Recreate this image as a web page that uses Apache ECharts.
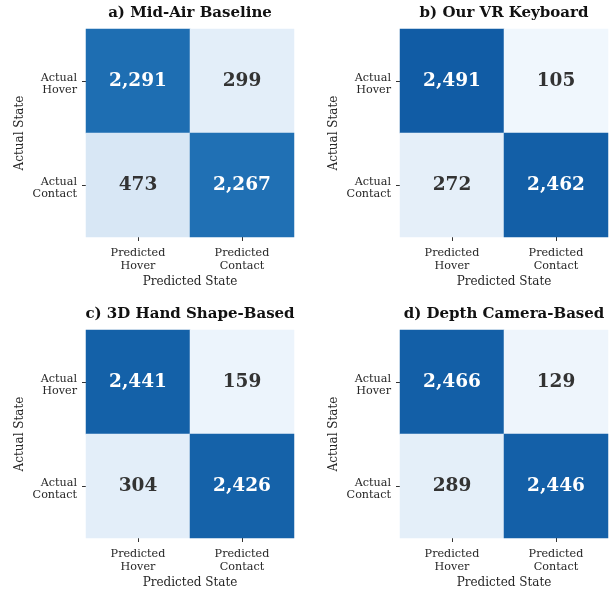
<!DOCTYPE html>
<html>
<head>
<meta charset="utf-8">
<script src="https://cdn.jsdelivr.net/npm/echarts@6/dist/echarts.min.js"></script>
<style>
  html, body { margin: 0; padding: 0; background: #fff; }
  #chart { width: 616px; height: 590px; }
</style>
</head>
<body>
<div id="chart"></div>
<script>
// Confusion matrices of hover / contact detection for four methods
const predictedLabels = ['Predicted\nHover', 'Predicted\nContact'];
const actualLabels = ['Actual\nHover', 'Actual\nContact'];
const panelTitles = ['a) Mid-Air Baseline', 'b) Our VR Keyboard', 'c) 3D Hand Shape-Based', 'd) Depth Camera-Based'];

// rows: actual state, columns: predicted state
const midAirBaseline   = [[2291, 299], [473, 2267]];
const ourVRKeyboard    = [[2491, 105], [272, 2462]];
const handShapeBased   = [[2441, 159], [304, 2426]];
const depthCameraBased = [[2466, 129], [289, 2446]];
const matrices = [midAirBaseline, ourVRKeyboard, handShapeBased, depthCameraBased];

const colorMax = 3000;
const blues = ['#f7fbff', '#deebf7', '#c6dbef', '#9ecae1', '#6baed6', '#4292c6', '#2171b5', '#08519c', '#08306b'];
const serif = "'DejaVu Serif', serif";

const cellSize = 208;
const gridPos = [
  { left: 86, top: 29 },
  { left: 400, top: 29 },
  { left: 86, top: 330 },
  { left: 400, top: 330 }
];

const fmt = v => v.toLocaleString('en-US');

const titles = [], grids = [], xAxes = [], yAxes = [], series = [];
matrices.forEach((m, i) => {
  const g = gridPos[i];
  grids.push({ left: g.left, top: g.top, width: cellSize, height: cellSize, containLabel: false });
  titles.push({
    text: panelTitles[i],
    left: g.left + cellSize / 2,
    top: g.top - 23,
    padding: 0,
    textAlign: 'center',
    textStyle: { fontFamily: serif, fontWeight: 'bold', fontSize: 15, color: '#111' }
  });
  xAxes.push({
    type: 'category', gridIndex: i, data: predictedLabels,
    name: 'Predicted State', nameLocation: 'middle', nameGap: 39,
    nameTextStyle: { fontFamily: serif, fontSize: 12, color: '#262626' },
    axisLine: { show: false },
    axisTick: { show: true, alignWithLabel: true, length: 4, lineStyle: { color: '#333' } },
    axisLabel: { fontFamily: serif, fontSize: 11.2, color: '#262626', margin: 10, lineHeight: 12.5 },
    splitLine: { show: false }, splitArea: { show: false }
  });
  yAxes.push({
    type: 'category', gridIndex: i, data: actualLabels, inverse: true,
    name: 'Actual State', nameLocation: 'middle', nameGap: 60, nameRotate: 90,
    nameTextStyle: { fontFamily: serif, fontSize: 12, color: '#262626' },
    axisLine: { show: false },
    axisTick: { show: true, alignWithLabel: true, length: 4, lineStyle: { color: '#333' } },
    axisLabel: {
      fontFamily: serif, fontSize: 11.2, color: '#262626', margin: 9,
      align: 'right', formatter: v => '{t|' + v.split('\n').join('}\n{t|') + '}',
      rich: { t: { fontFamily: serif, fontSize: 11.2, color: '#262626', lineHeight: 12.5, align: 'right' } },
      padding: [6, 0, 0, 0]
    },
    splitLine: { show: false }, splitArea: { show: false }
  });
  const data = [];
  m.forEach((row, r) => row.forEach((v, c) => {
    data.push({
      value: [c, r, v],
      label: { color: v > colorMax / 2 ? '#ffffff' : '#333333' }
    });
  }));
  series.push({
    type: 'heatmap', xAxisIndex: i, yAxisIndex: i, data: data,
    label: {
      show: true, fontFamily: serif, fontWeight: 'bold', fontSize: 18.5,
      formatter: p => fmt(p.value[2])
    },
    itemStyle: { borderWidth: 0 },
    emphasis: { disabled: true }
  });
});

const chart = echarts.init(document.getElementById('chart'), null, { renderer: 'canvas' });
chart.setOption({
  animation: false,
  backgroundColor: '#ffffff',
  title: titles,
  grid: grids,
  xAxis: xAxes,
  yAxis: yAxes,
  visualMap: {
    show: false, type: 'continuous', min: 0, max: colorMax, dimension: 2,
    seriesIndex: [0, 1, 2, 3],
    inRange: { color: blues }
  },
  series: series
});
</script>
</body>
</html>
